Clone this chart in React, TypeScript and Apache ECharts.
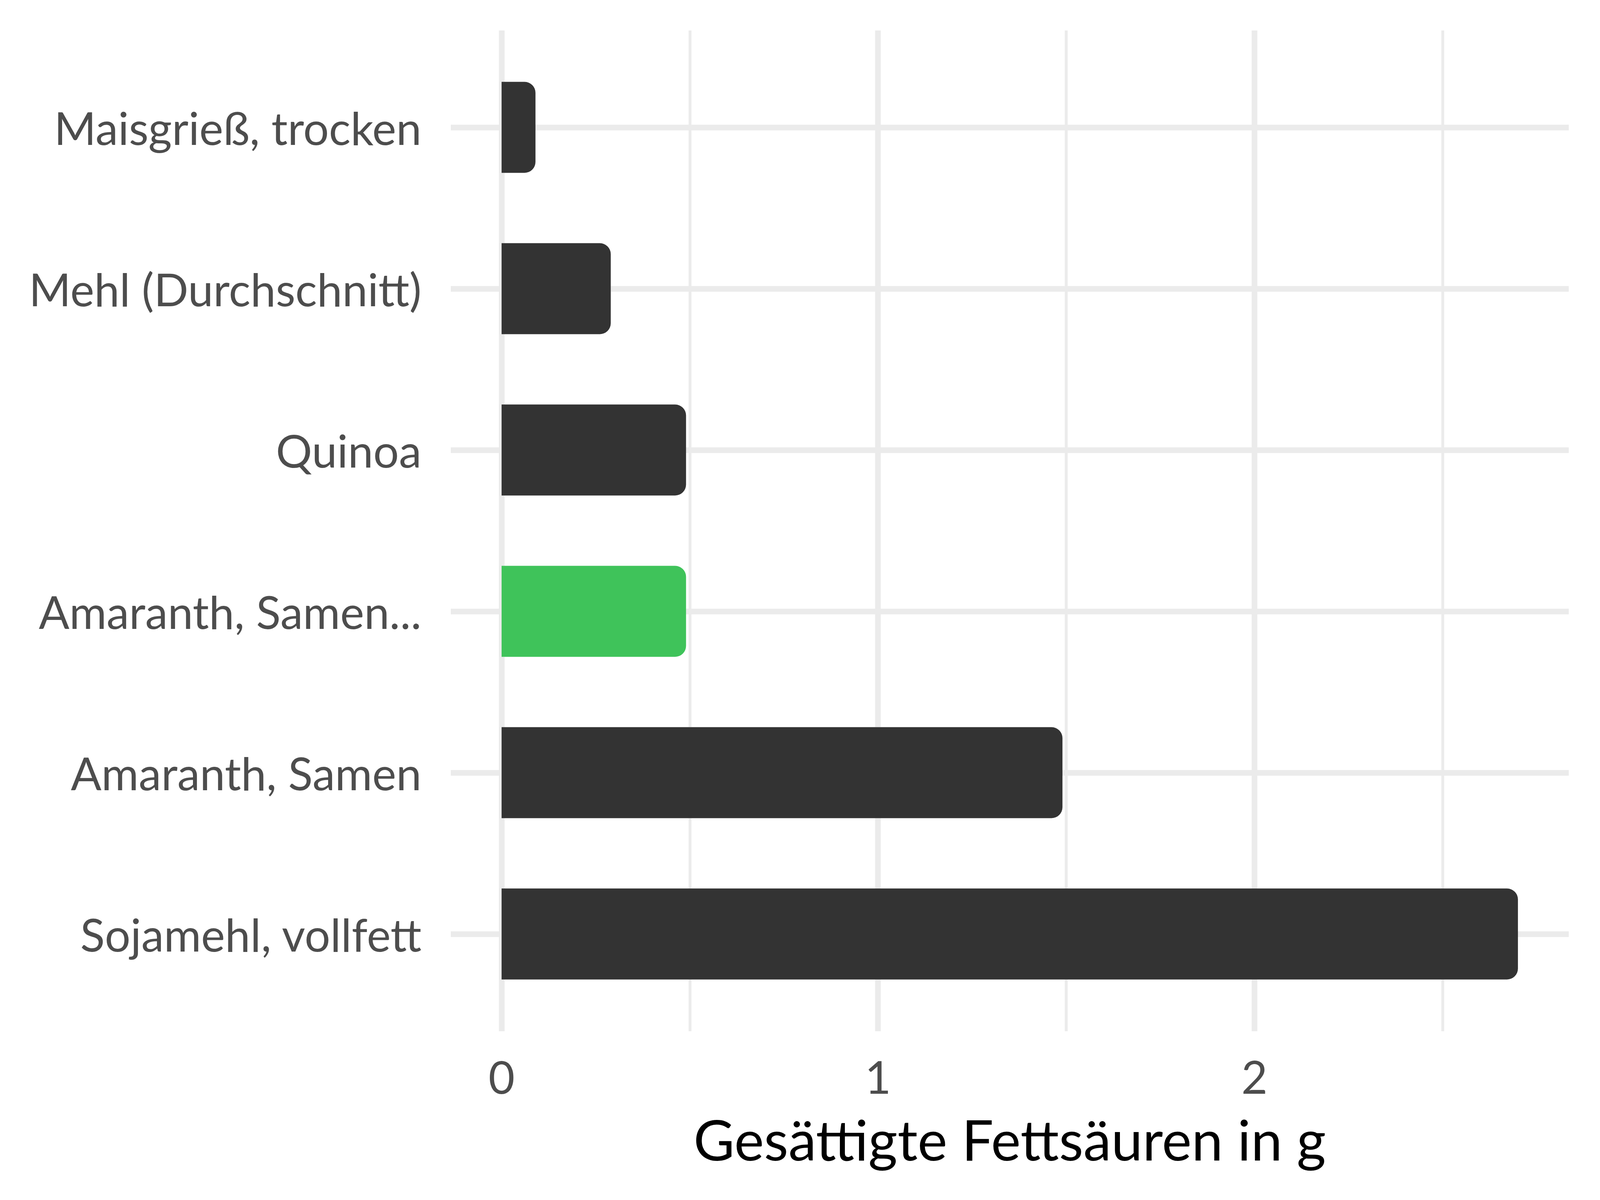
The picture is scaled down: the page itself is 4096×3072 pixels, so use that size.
import React, { useEffect, useRef } from "react";
import * as echarts from "echarts";

const categories = [
  "Maisgrieß, trocken",
  "Mehl (Durchschnitt)",
  "Quinoa",
  "Amaranth, Samen...",
  "Amaranth, Samen",
  "Sojamehl, vollfett",
];
const values = [0.09, 0.29, 0.49, 0.49, 1.49, 2.7];
const highlightIndex = 3;
const xTickLabels = [0, 1, 2];
const majorGridX = [0, 1, 2];
const minorGridX = [0.5, 1.5, 2.5];
const xMin = -0.135;
const xMax = 2.835;
const axisTitle = "Gesättigte Fettsäuren in g";

const FONT = "Lato";

export default function App() {
  const ref = useRef<HTMLDivElement>(null);
  useEffect(() => {
    if (!ref.current) return;
    const chart = echarts.init(ref.current, undefined, { renderer: "svg" });
    const gridColor = "#EBEBEB";
    const vLines: any[] = [];
    majorGridX.forEach((v) =>
      vLines.push({ xAxis: v, lineStyle: { color: gridColor, width: 14.5, type: "solid" } })
    );
    minorGridX.forEach((v) =>
      vLines.push({ xAxis: v, lineStyle: { color: gridColor, width: 7.3, type: "solid" } })
    );
    const hLines: any[] = categories.map((c) => ({
      yAxis: c,
      lineStyle: { color: gridColor, width: 14.5, type: "solid" },
    }));
    const barWidth = 233;
    const radius = [0, 28, 28, 0];
    const left = 1154;
    const right = 80;
    chart.setOption({
      animation: false,
      backgroundColor: "#FFFFFF",
      grid: [
        // bars: band centres of the category axis
        { left, right, top: 119.5, bottom: 474.5, containLabel: false },
        // full panel: vertical grid lines, x labels and title
        { left, right, top: 78, bottom: 432, containLabel: false },
      ],
      xAxis: [
        {
          gridIndex: 0,
          type: "value",
          min: xMin,
          max: xMax,
          show: false,
        },
        {
          gridIndex: 1,
          type: "value",
          min: xMin,
          max: xMax,
          axisLine: { show: false },
          axisTick: { show: false },
          splitLine: { show: false },
          axisLabel: {
            customValues: xTickLabels,
            color: "#4D4D4D",
            fontFamily: FONT,
            fontSize: 116,
            lineHeight: 116,
            margin: 57,
          },
          name: axisTitle,
          nameLocation: "middle",
          nameGap: 203,
          nameTextStyle: {
            color: "#000000",
            fontFamily: FONT,
            fontSize: 144,
            lineHeight: 144,
          },
        },
      ],
      yAxis: [
        {
          gridIndex: 0,
          type: "category",
          data: categories,
          inverse: true,
          axisLine: { show: false },
          axisTick: { show: false },
          splitLine: { show: false },
          axisLabel: {
            color: "#4D4D4D",
            fontFamily: FONT,
            fontSize: 116,
            margin: 75,
          },
        },
        {
          gridIndex: 1,
          type: "value",
          min: 0,
          max: 1,
          show: false,
        },
      ],
      series: [
        {
          type: "line",
          xAxisIndex: 1,
          yAxisIndex: 1,
          data: [],
          z: 0,
          silent: true,
          markLine: {
            z: 0,
            silent: true,
            symbol: "none",
            label: { show: false },
            emphasis: { disabled: true },
            data: vLines,
          },
        },
        {
          type: "line",
          xAxisIndex: 0,
          yAxisIndex: 0,
          data: [],
          z: 0,
          silent: true,
          markLine: {
            z: 0,
            silent: true,
            symbol: "none",
            label: { show: false },
            emphasis: { disabled: true },
            data: hLines,
          },
        },
        {
          type: "bar",
          xAxisIndex: 0,
          yAxisIndex: 0,
          data: values,
          barWidth,
          silent: true,
          z: 10,
          itemStyle: {
            color: "#FFFFFF",
            borderColor: "#FFFFFF",
            borderWidth: 24,
            borderRadius: radius,
          },
        },
        {
          type: "bar",
          xAxisIndex: 0,
          yAxisIndex: 0,
          barWidth,
          barGap: "-100%",
          z: 11,
          data: values.map((v, i) => ({
            value: v,
            itemStyle: { color: i === highlightIndex ? "#3FC35A" : "#333333" },
          })),
          itemStyle: { borderRadius: radius },
        },
      ],
    });
    return () => chart.dispose();
  }, []);
  return (
    <div
      ref={ref}
      style={{ position: "fixed", left: 0, top: 0, width: 4096, height: 3072 }}
    />
  );
}
